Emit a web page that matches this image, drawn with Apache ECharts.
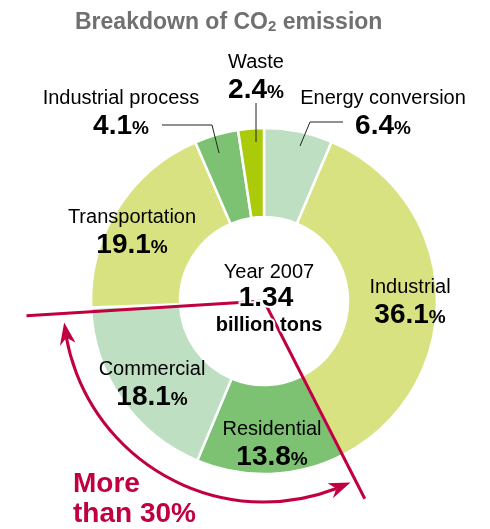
<!DOCTYPE html>
<html><head><meta charset="utf-8">
<script src="https://cdn.jsdelivr.net/npm/echarts@6/dist/echarts.min.js"></script>
<style>html,body{margin:0;padding:0;background:#fff}#c{width:490px;height:529px}</style>
</head><body><div id="c"></div>
<script>
// ---- data ----
const categories = ['Energy conversion','Industrial','Residential','Commercial','Transportation','Industrial process','Waste'];
const shares = [6.4, 36.1, 13.8, 18.1, 19.1, 4.1, 2.4];
const sliceColors = ['#bfdfc3','#d9e280','#7dc273','#bfdfc3','#d9e280','#7dc273','#abcb0a'];
const titleParts = ['Breakdown of CO', '2', ' emission'];
const centerLines = ['Year 2007', '1.34', 'billion tons'];
const calloutText = 'More\nthan 30%';

// ---- layout (positions/styles, not data) ----
const FONT = '"Liberation Sans", Arial, Helvetica, sans-serif';
const CX = 264, CY = 301, R_IN = 84, R_OUT = 173;
const RED = '#c0003f';
const labelPos = [[383,112],[410,301],[272,443],[152,383],[132,231],[121,112],[256,76]];
const leaderPts = {
  0: [[343,122],[310,122],[300,146]],
  5: [[162,125],[212,125],[219,153]],
  6: [[256,103],[256,142]]
};

const total = shares.reduce((a,b)=>a+b,0);
function boundaryAngle(k){ let s=0; for(let i=0;i<k;i++) s+=shares[i]; return -90 + s/total*360; }
const rad = d => d*Math.PI/180;
const P = (r,a) => [CX + r*Math.cos(rad(a)), CY + r*Math.sin(rad(a))];

const aRight = boundaryAngle(2);   // Industrial | Residential
const aLeft  = boundaryAngle(4);   // Commercial | Transportation

// arrow arc
const ARC_R = 201, AH_L = 22, AH_W = 8;
const tipR = aRight + 1.5, tipL = aLeft - 4;
const dA = AH_L / ARC_R * 180 / Math.PI;
function arrowHead(t, sgn){
  return [P(ARC_R, t), P(ARC_R - AH_W, t + sgn*dA), P(ARC_R, t + sgn*dA*0.7), P(ARC_R + AH_W, t + sgn*dA)];
}

const leaderGraphics = Object.keys(leaderPts).map(k => ({
  type: 'polyline', z: 100, shape: {points: leaderPts[k]}, style: {stroke: '#222', lineWidth: 1, fill: null}
}));

const chart = echarts.init(document.getElementById('c'), null, {renderer:'canvas'});
chart.setOption({
  animation: false,
  title: {
    text: '{a|' + titleParts[0] + '}{s|' + titleParts[1] + '}{a|' + titleParts[2] + '}',
    left: 75, top: 9, padding: 0,
    textStyle: {
      rich: {
        a: {fontSize: 23, fontWeight: 'bold', color: '#707070', fontFamily: FONT, lineHeight: 28},
        s: {fontSize: 15, fontWeight: 'bold', color: '#707070', fontFamily: FONT, lineHeight: 28, verticalAlign: 'bottom', padding: [0,0,3,0]}
      }
    }
  },
  series: [{
    type: 'pie',
    center: [CX, CY],
    radius: [R_IN, R_OUT],
    startAngle: 90,
    clockwise: true,
    avoidLabelOverlap: false,
    silent: true,
    itemStyle: {borderColor: '#fff', borderWidth: 2.5},
    label: {
      show: true,
      position: 'outside',
      formatter: p => '{n|' + p.name + '}\n{v|' + p.value.toFixed(1) + '}{p|%}',
      rich: {
        n: {fontSize: 20, color: '#000', fontFamily: FONT, lineHeight: 28},
        v: {fontSize: 28, fontWeight: 'bold', color: '#000', fontFamily: FONT, lineHeight: 28},
        p: {fontSize: 19, fontWeight: 'bold', color: '#000', fontFamily: FONT, lineHeight: 28, verticalAlign: 'bottom', padding: [0,0,2,0]}
      }
    },
    labelLine: {show: false},
    labelLayout: function(params){
      const i = params.dataIndex;
      return {x: labelPos[i][0], y: labelPos[i][1], align: 'center', verticalAlign: 'middle'};
    },
    data: categories.map((c,i) => ({
      name: c, value: shares[i],
      itemStyle: {color: sliceColors[i]}
    }))
  }],
  graphic: leaderGraphics.concat([
    {type:'line', z: 100, shape: {x1: CX, y1: CY, x2: P(222, aRight)[0], y2: P(222, aRight)[1]}, style: {stroke: RED, lineWidth: 3}},
    {type:'line', z: 100, shape: {x1: CX, y1: CY, x2: P(238, aLeft - 1.4)[0], y2: P(238, aLeft - 1.4)[1]}, style: {stroke: RED, lineWidth: 3}},
    {type:'arc', z: 100, shape: {cx: CX, cy: CY, r: ARC_R, startAngle: rad(tipR + dA*0.7), endAngle: rad(tipL - dA*0.7), clockwise: true}, style: {stroke: RED, lineWidth: 3, fill: null}},
    {type:'polygon', z: 100, shape: {points: arrowHead(tipR, 1)}, style: {fill: RED}},
    {type:'polygon', z: 100, shape: {points: arrowHead(tipL, -1)}, style: {fill: RED}},
    {type:'text', z: 110, style: {text: centerLines[0], x: 269, y: 272, align:'center', verticalAlign:'middle', fontSize: 20, fontFamily: FONT, fill:'#000', stroke:'#fff', lineWidth: 4}},
    {type:'text', z: 110, style: {text: centerLines[1], x: 266, y: 298, align:'center', verticalAlign:'middle', fontSize: 28, fontWeight:'bold', fontFamily: FONT, fill:'#000', stroke:'#fff', lineWidth: 4}},
    {type:'text', z: 110, style: {text: centerLines[2], x: 269, y: 325, align:'center', verticalAlign:'middle', fontSize: 20, fontWeight:'bold', fontFamily: FONT, fill:'#000', stroke:'#fff', lineWidth: 4}},
    {type:'text', z: 110, style: {text: calloutText, x: 73, y: 499, align:'left', verticalAlign:'middle', fontSize: 28, fontWeight:'bold', lineHeight: 30, fontFamily: FONT, fill: RED}}
  ])
});
</script>
</body></html>
